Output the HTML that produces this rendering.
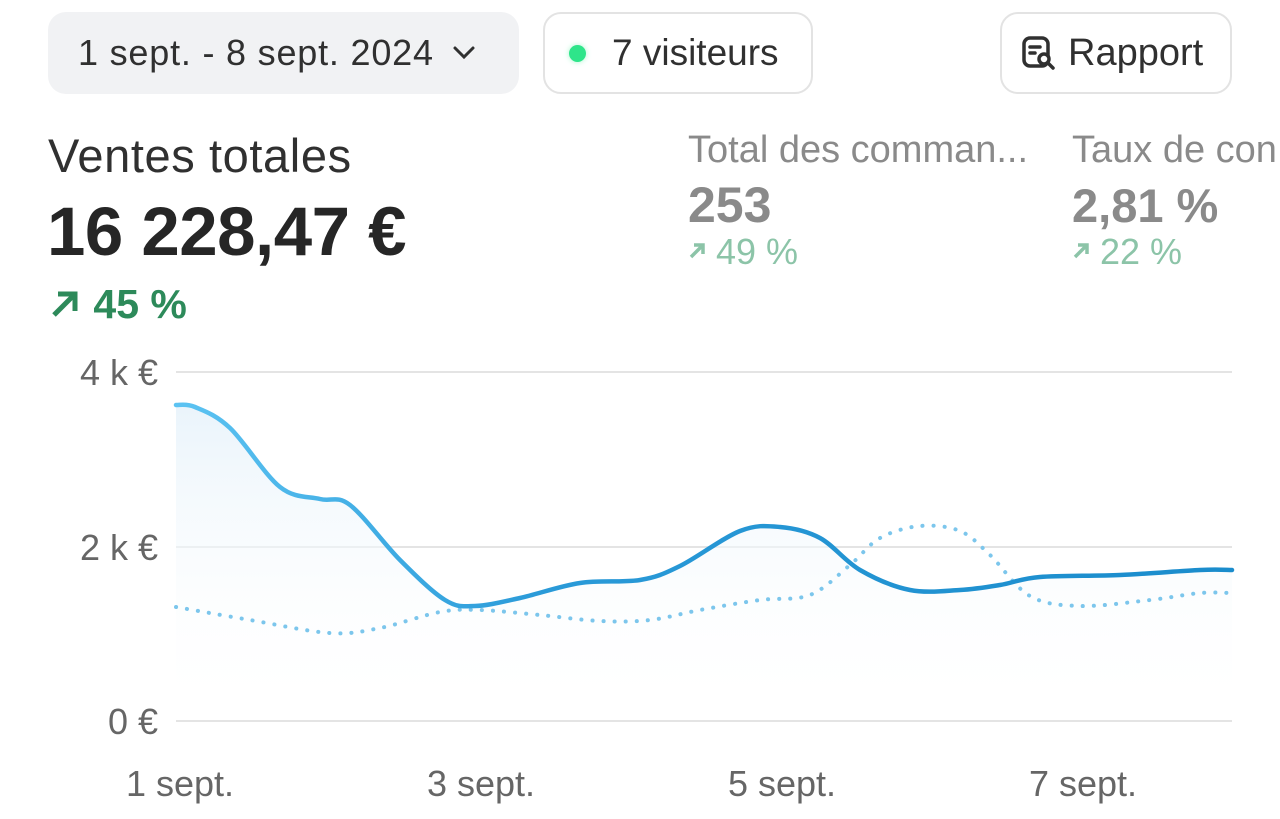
<!DOCTYPE html>
<html><head><meta charset="utf-8"><style>
body{margin:0;width:1280px;height:819px;background:#fff;font-family:"Liberation Sans",sans-serif;position:relative;overflow:hidden;color:#303030}
.a{position:absolute;white-space:nowrap}
.btn{position:absolute;box-sizing:border-box;border-radius:18px;font-size:36px;display:flex;align-items:center}
</style></head><body>
<div class="btn" style="left:48px;top:12px;width:471px;height:82px;background:#f1f2f4;padding-left:30px;color:#303030;letter-spacing:0.8px">1 sept. - 8 sept. 2024
<svg width="30" height="20" style="margin-left:16px" viewBox="0 0 30 20"><path d="M5 5 L14 14 L23 5" fill="none" stroke="#303030" stroke-width="3" stroke-linecap="round"/></svg></div>
<div class="btn" style="left:543px;top:12px;width:270px;height:82px;border:2px solid #e3e3e3;padding-left:24px;font-size:37px">
<span style="width:17px;height:17px;border-radius:50%;background:#2ee58a;box-shadow:0 0 6px #aaf5cf;display:inline-block;margin-right:26px"></span>7 visiteurs</div>
<div class="btn" style="left:1000px;top:12px;width:232px;height:82px;border:2px solid #e3e3e3;padding-left:18px;font-size:38px">
<svg width="38" height="38" viewBox="0 0 38 38" style="margin-right:10px"><rect x="4" y="4" width="24" height="28" rx="6" fill="none" stroke="#303030" stroke-width="3.5"/><path d="M10 13h10M10 19h5" stroke="#303030" stroke-width="3.5" stroke-linecap="round"/><circle cx="24" cy="25" r="5" fill="#fff" stroke="#303030" stroke-width="3.5"/><path d="M28 29l5 5" stroke="#303030" stroke-width="3.5" stroke-linecap="round"/></svg>Rapport</div>

<div class="a" style="left:48px;top:128px;font-size:47px;letter-spacing:0.6px;color:#303030">Ventes totales</div>
<div class="a" style="left:47px;top:192px;font-size:69px;font-weight:bold;letter-spacing:-0.5px;color:#262626">16 228,47 €</div>
<div class="a" style="left:48px;top:281px;font-size:41px;color:#2d8a5a;font-weight:bold">
<svg width="34" height="34" viewBox="0 0 34 34" style="vertical-align:-3px"><path d="M6 28 L26 8 M10 7 H27 V24" fill="none" stroke="#2d8a5a" stroke-width="5"/></svg> 45 %</div>

<div class="a" style="left:688px;top:129px;font-size:38px;color:#8a8a8a">Total des comman...</div>
<div class="a" style="left:688px;top:176px;font-size:50px;font-weight:bold;color:#8a8a8a">253</div>
<div class="a" style="left:688px;top:231px;font-size:36px;color:#8cc4a8"><svg width="18" height="18" viewBox="0 0 18 18" style="vertical-align:4px"><path d="M3 15 L14 4 M6 3 H15 V12" fill="none" stroke="#8cc4a8" stroke-width="3.5"/></svg> 49 %</div>
<div class="a" style="left:1072px;top:129px;font-size:38px;color:#8a8a8a">Taux de con</div>
<div class="a" style="left:1072px;top:178px;font-size:47px;font-weight:bold;color:#8a8a8a">2,81 %</div>
<div class="a" style="left:1072px;top:231px;font-size:36px;color:#8cc4a8"><svg width="18" height="18" viewBox="0 0 18 18" style="vertical-align:4px"><path d="M3 15 L14 4 M6 3 H15 V12" fill="none" stroke="#8cc4a8" stroke-width="3.5"/></svg> 22 %</div>

<svg class="a" style="left:0;top:0" width="1280" height="819">
<defs>
<linearGradient id="lg" x1="0" x2="1"><stop offset="0" stop-color="#5cc3f2"/><stop offset="0.35" stop-color="#2a9ad8"/><stop offset="1" stop-color="#1a8ccc"/></linearGradient>
<linearGradient id="fg" x1="0" x2="0" y1="0" y2="1"><stop offset="0" stop-color="#eaf4fb"/><stop offset="1" stop-color="#ffffff" stop-opacity="0"/></linearGradient>
</defs>
<g stroke="#e4e4e4" stroke-width="2"><line x1="176" x2="1232" y1="372" y2="372"/><line x1="176" x2="1232" y1="547" y2="547"/><line x1="176" x2="1232" y1="721" y2="721"/></g>
<g font-size="36" fill="#666" text-anchor="end"><text x="158" y="385">4 k €</text><text x="158" y="560">2 k €</text><text x="158" y="734">0 €</text></g>
<g font-size="36" fill="#666" text-anchor="middle"><text x="180" y="796">1 sept.</text><text x="481" y="796">3 sept.</text><text x="782" y="796">5 sept.</text><text x="1083" y="796">7 sept.</text></g>
<path id="fill" fill="url(#fg)"/>
<path id="dot" fill="none" stroke="#7cc6ec" stroke-width="4" stroke-dasharray="0.1 11" stroke-linecap="round"/>
<path id="sol" fill="none" stroke="url(#lg)" stroke-width="4.5" stroke-linecap="round"/>
</svg>
<script>
function cr(p){let d="M"+p[0][0]+" "+p[0][1];for(let i=0;i<p.length-1;i++){const a=p[i-1]||p[i],b=p[i],c=p[i+1],e=p[i+2]||c;d+=" C"+(b[0]+(c[0]-a[0])/6)+" "+(b[1]+(c[1]-a[1])/6)+" "+(c[0]-(e[0]-b[0])/6)+" "+(c[1]-(e[1]-b[1])/6)+" "+c[0]+" "+c[1];}return d;}
const s=[[176,405],[195,407],[230,428],[280,487],[320,499],[350,505],[400,560],[445,600],[475,606],[520,598],[580,583],[640,580],[680,566],[740,531],[780,527],[820,538],[860,570],[910,590],[960,590],[1000,585],[1040,577],[1120,575],[1200,570],[1232,570]];
const t=[[176,607],[250,620],[330,633],[380,628],[440,612],[480,610],[540,615],[600,621],[650,620],[700,610],[760,600],[810,595],[850,565],[880,538],[920,526],[960,531],[990,555],[1030,596],[1080,606],[1150,600],[1200,593],[1232,593]];
const ds=cr(s);
document.getElementById('sol').setAttribute('d',ds);
document.getElementById('dot').setAttribute('d',cr(t));
document.getElementById('fill').setAttribute('d',ds+" L1232 721 L176 721 Z");
</script>
</body></html>
